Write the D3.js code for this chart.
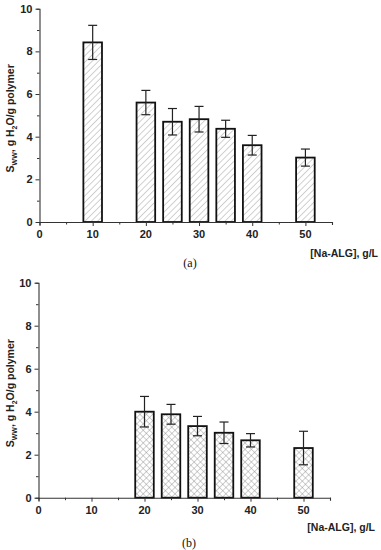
<!DOCTYPE html>
<html><head><meta charset="utf-8">
<script src="https://cdn.jsdelivr.net/npm/d3@7"></script>
<style>body{margin:0;background:#fff}svg{display:block}</style>
</head><body>
<script>
const concA = [10, 20, 25, 30, 35, 40, 50];
const swellA = [8.42, 5.6, 4.7, 4.82, 4.37, 3.6, 3.02];
const errA = [0.8, 0.57, 0.62, 0.6, 0.4, 0.46, 0.4];
const concB = [20, 25, 30, 35, 40, 50];
const swellB = [4.0, 3.88, 3.33, 3.02, 2.67, 2.31];
const errB = [0.71, 0.46, 0.45, 0.5, 0.31, 0.78];
const xTicks = [0, 10, 20, 30, 40, 50];
const yTicks = [0, 2, 4, 6, 8, 10];

const W = 381, H = 550;
const svg = d3.select("body").append("svg").attr("width", W).attr("height", H);
const defs = svg.append("defs");
const p1 = defs.append("pattern").attr("id", "diag").attr("patternUnits", "userSpaceOnUse")
  .attr("width", 4.5).attr("height", 4.5).attr("patternTransform", "rotate(45)");
p1.append("rect").attr("width", 4.5).attr("height", 4.5).attr("fill", "#fff");
p1.append("line").attr("x1", 0).attr("y1", 0).attr("x2", 0).attr("y2", 4.5)
  .attr("stroke", "#9a9a9a").attr("stroke-width", 0.9);
const p2 = defs.append("pattern").attr("id", "cross").attr("patternUnits", "userSpaceOnUse")
  .attr("width", 4.5).attr("height", 4.5).attr("patternTransform", "rotate(45)");
p2.append("rect").attr("width", 4.5).attr("height", 4.5).attr("fill", "#fff");
p2.append("line").attr("x1", 0).attr("y1", 0).attr("x2", 0).attr("y2", 4.5)
  .attr("stroke", "#8a8a8a").attr("stroke-width", 0.8);
p2.append("line").attr("x1", 0).attr("y1", 0).attr("x2", 4.5).attr("y2", 0)
  .attr("stroke", "#8a8a8a").attr("stroke-width", 0.8);

const font = "'Liberation Sans', Arial, sans-serif";

function panel(cfg) {
  const x = d3.scaleLinear().domain([0, 55]).range([cfg.x0, cfg.x1]);
  const y = d3.scaleLinear().domain([0, 10]).range([cfg.y0, cfg.y1]);
  const g = svg.append("g");
  const bw = x(3.5) - x(0);

  // bars
  g.selectAll("rect.bar").data(cfg.conc).join("rect")
    .attr("x", (d) => x(d) - bw / 2)
    .attr("y", (d, i) => y(cfg.vals[i]))
    .attr("width", bw)
    .attr("height", (d, i) => y(0) - y(cfg.vals[i]))
    .attr("fill", `url(#${cfg.pat})`)
    .attr("stroke", "#111").attr("stroke-width", 1.8);

  // error bars
  const eg = g.selectAll("g.err").data(cfg.conc).join("g");
  eg.append("line")
    .attr("x1", (d) => x(d)).attr("x2", (d) => x(d))
    .attr("y1", (d, i) => y(cfg.vals[i] + cfg.err[i]))
    .attr("y2", (d, i) => y(cfg.vals[i] - cfg.err[i]))
    .attr("stroke", "#222").attr("stroke-width", 1.2);
  [1, -1].forEach((s) => {
    eg.append("line")
      .attr("x1", (d) => x(d) - 4.5).attr("x2", (d) => x(d) + 4.5)
      .attr("y1", (d, i) => y(cfg.vals[i] + s * cfg.err[i]))
      .attr("y2", (d, i) => y(cfg.vals[i] + s * cfg.err[i]))
      .attr("stroke", "#222").attr("stroke-width", 1.2);
  });

  // x axis
  const xa = g.append("g").attr("transform", `translate(0,${y(0)})`)
    .call(d3.axisBottom(x).tickValues(d3.range(0, 56, 5)).tickSize(3).tickFormat(""));
  xa.select(".domain").attr("stroke", "#333").attr("stroke-width", 1.1);
  xa.selectAll(".tick line").attr("stroke", "#333").attr("y2", (d) => (d % 10 === 0 ? 4 : 2.5));
  g.append("g").selectAll("text").data(xTicks).join("text")
    .attr("x", (d) => x(d)).attr("y", y(0) + 16)
    .attr("text-anchor", "middle").attr("font-family", font)
    .attr("font-weight", "bold").attr("font-size", 11).attr("fill", "#222")
    .text((d) => d);

  // y axis
  const ya = g.append("g").attr("transform", `translate(${cfg.x0},0)`)
    .call(d3.axisLeft(y).tickValues(d3.range(0, 11, 1)).tickSize(3).tickFormat(""));
  ya.select(".domain").attr("stroke", "#333").attr("stroke-width", 1.1);
  ya.selectAll(".tick line").attr("stroke", "#333").attr("x2", (d) => (d % 2 === 0 ? -4 : -2.5));
  g.append("g").selectAll("text").data(yTicks).join("text")
    .attr("x", cfg.x0 - 7).attr("y", (d) => y(d) + 4)
    .attr("text-anchor", "end").attr("font-family", font)
    .attr("font-weight", "bold").attr("font-size", 11).attr("fill", "#222")
    .text((d) => d);

  // y label
  const yl = g.append("text")
    .attr("transform", `translate(14,${(y(0) + y(10)) / 2 + 3}) rotate(-90)`)
    .attr("text-anchor", "middle").attr("font-family", font)
    .attr("font-weight", "bold").attr("font-size", 10.5).attr("fill", "#222");
  yl.append("tspan").text("S");
  yl.append("tspan").attr("font-size", 7).attr("dy", 3).text("WW");
  yl.append("tspan").attr("dy", -3).text(", g H");
  yl.append("tspan").attr("font-size", 7).attr("dy", 3).text("2");
  yl.append("tspan").attr("dy", -3).text("O/g polymer");

  // x label
  g.append("text").attr("x", cfg.xlx).attr("y", cfg.xly)
    .attr("text-anchor", "end").attr("font-family", font)
    .attr("font-weight", "bold").attr("font-size", 10.5).attr("fill", "#222")
    .text("[Na-ALG], g/L");

  // panel label
  g.append("text").attr("x", cfg.plx).attr("y", cfg.ply)
    .attr("text-anchor", "middle").attr("font-family", "'Liberation Serif', 'Times New Roman', serif")
    .attr("font-size", 12).attr("fill", "#111")
    .text(cfg.label);
}

panel({ conc: concA, vals: swellA, err: errA, pat: "diag",
  x0: 39.5, x1: 332, y0: 222, y1: 8.7, xlx: 378, xly: 257, plx: 190, ply: 267, label: "(a)" });
panel({ conc: concB, vals: swellB, err: errB, pat: "cross",
  x0: 38.5, x1: 330, y0: 497.7, y1: 282.7, xlx: 375, xly: 531, plx: 189, ply: 547, label: "(b)" });
</script>
</body></html>
